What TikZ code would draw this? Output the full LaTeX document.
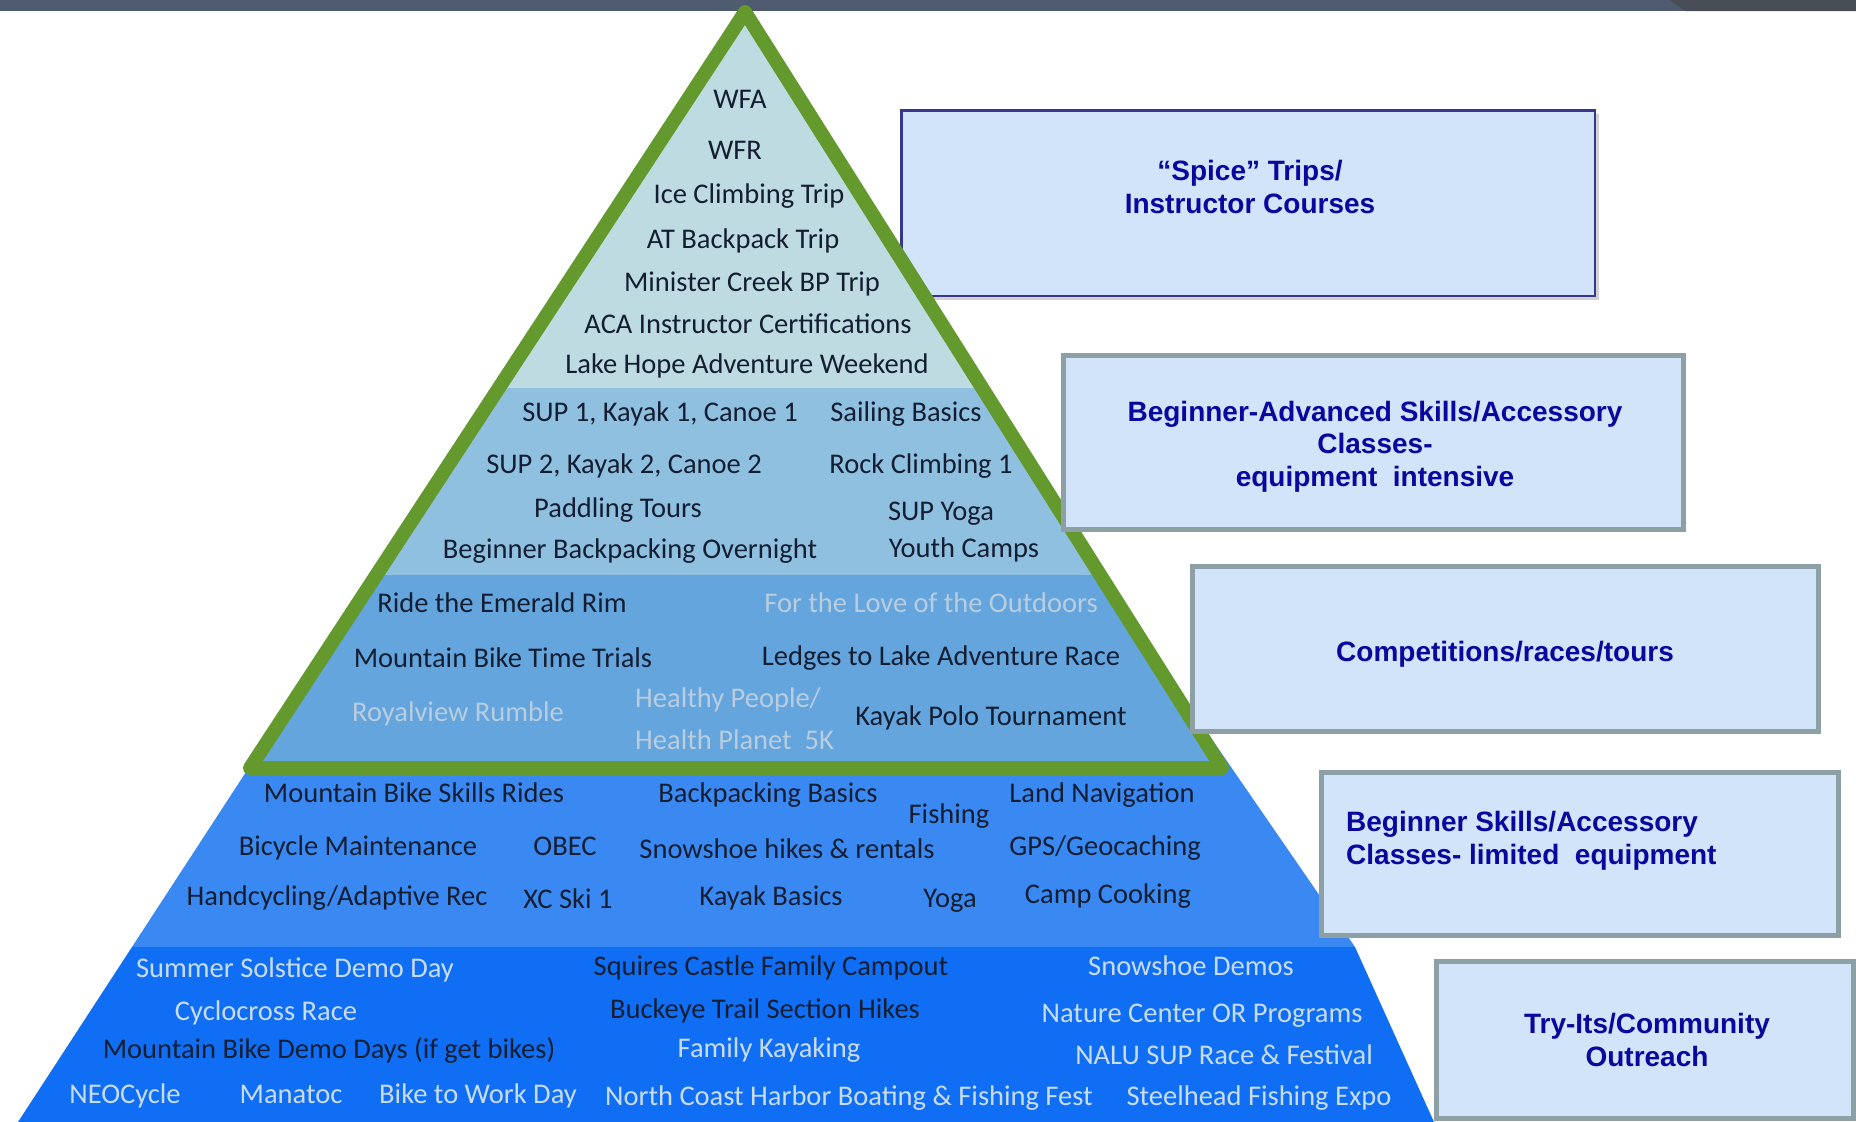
\documentclass[tikz,border=0pt]{standalone}
\usepackage{fontspec}
\setmainfont{Carlito}
\newfontfamily\arialfont{Liberation Sans}
\definecolor{barcol}{RGB}{79,91,110}
\definecolor{barcoltwo}{RGB}{72,77,86}
\definecolor{bandone}{RGB}{189,219,224}
\definecolor{bandtwo}{RGB}{143,192,224}
\definecolor{bandthree}{RGB}{100,165,222}
\definecolor{bandfour}{RGB}{58,137,242}
\definecolor{bandfive}{RGB}{16,110,245}
\definecolor{pyrgreen}{RGB}{99,153,45}
\definecolor{boxfill}{RGB}{209,228,250}
\definecolor{boxonecol}{RGB}{55,55,140}
\definecolor{boxborder}{RGB}{140,160,165}
\definecolor{boxtext}{RGB}{8,8,158}
\definecolor{darktext}{RGB}{20,30,50}
\definecolor{lightthree}{RGB}{185,205,222}
\definecolor{lightfive}{RGB}{200,220,240}
\begin{document}
\begin{tikzpicture}[x=1pt,y=-1pt,
  ptxt/.style={font=\fontsize{28.5}{34}\selectfont, anchor=base, inner sep=0pt},
  dk/.style={ptxt, text=darktext},
  ltt/.style={ptxt, text=lightthree},
  ltf/.style={ptxt, text=lightfive},
  boxtxt/.style={font=\arialfont\bfseries\fontsize{28}{32.5}\selectfont, text=boxtext, align=center, anchor=base, inner sep=0pt},
  catbox/.style={draw=boxborder, line width=5pt, fill=boxfill}]
\useasboundingbox (0,0) rectangle (1856,1122);
\clip (0,0) rectangle (1856,1122);
% top bar
\fill[barcol] (0,0) rectangle (1856,11);
\fill[barcoltwo] (1670,0) -- (1856,0) -- (1856,11) -- (1685,11) -- cycle;
% box 1 (behind the pyramid)
\fill[black, opacity=0.18] (904,114) rectangle (1599,300);
\draw[draw=boxonecol, line width=2.5pt, fill=boxfill] (901.25,110.25) rectangle (1594.75,295.75);
\node[boxtxt] (t1) at (1250,213) {“Spice” Trips/\\Instructor Courses};
% blue base of the pyramid
\fill[bandfour] (358,600) -- (1116,600) -- (1355,947) -- (132,947) -- cycle;
\fill[bandfive] (132,947) -- (1355,947) -- (1434,1122) -- (18,1122) -- cycle;
% green-framed top of the pyramid
\begin{scope}
\clip (745,12) -- (1222,768) -- (250,768) -- cycle;
\fill[bandone] (0,0) rectangle (1856,388);
\fill[bandtwo] (0,388) rectangle (1856,575);
\fill[bandthree] (0,575) rectangle (1856,780);
\end{scope}
\draw[pyrgreen, line width=14pt, line join=round] (745,12) -- (1222,768) -- (250,768) -- cycle;
% band 1
\node[dk] (wfa) at (740,108) {WFA};
\node[dk] (wfr) at (735,159) {WFR};
\node[dk] (ice) at (749,203) {Ice Climbing Trip};
\node[dk] (at) at (743,248) {AT Backpack Trip};
\node[dk] (mcb) at (752,291) {Minister Creek BP Trip};
\node[dk] (aca) at (748,333) {ACA Instructor Certifications};
\node[dk] (lha) at (747,373) {Lake Hope Adventure Weekend};
% band 2
\node[dk] (sup1) at (660,421) {SUP 1, Kayak 1, Canoe 1};
\node[dk] (sail) at (906,421) {Sailing Basics};
\node[dk] (sup2) at (624,473) {SUP 2, Kayak 2, Canoe 2};
\node[dk] (rock) at (921,473) {Rock Climbing 1};
\node[dk] (padd) at (618,517) {Paddling Tours};
\node[dk] (supy) at (941,520) {SUP Yoga};
\node[dk] (bbo) at (630,558) {Beginner Backpacking Overnight};
\node[dk] (youth) at (964,557) {Youth Camps};
% band 3
\node[dk] (rer) at (502,612) {Ride the Emerald Rim};
\node[ltt] (love) at (931,612) {For the Love of the Outdoors};
\node[dk] (mbtt) at (503,667) {Mountain Bike Time Trials};
\node[dk] (ledge) at (941,665) {Ledges to Lake Adventure Race};
\node[ltt] (royal) at (458,721) {Royalview Rumble};
\node[ltt, anchor=base west] (hp1) at (635,707) {Healthy People/};
\node[ltt, anchor=base west] (hp2) at (635,749) {Health Planet~ 5K};
\node[dk] (polo) at (991,725) {Kayak Polo Tournament};
% band 4
\node[dk] (mbsr) at (414,802) {Mountain Bike Skills Rides};
\node[dk] (bpb) at (768,802) {Backpacking Basics};
\node[dk] (fish) at (949,823) {Fishing};
\node[dk] (land) at (1102,802) {Land Navigation};
\node[dk] (bicy) at (358,855) {Bicycle Maintenance};
\node[dk] (obec) at (565,855) {OBEC};
\node[dk] (snow) at (787,858) {Snowshoe hikes \& rentals};
\node[dk] (gps) at (1105,855) {GPS/Geocaching};
\node[dk] (hand) at (337,905) {Handcycling/Adaptive Rec};
\node[dk] (xc) at (568,908) {XC Ski 1};
\node[dk] (kayb) at (771,905) {Kayak Basics};
\node[dk] (yoga) at (950,907) {Yoga};
\node[dk] (camp) at (1108,903) {Camp Cooking};
% band 5
\node[ltf] (sol) at (295,977) {Summer Solstice Demo Day};
\node[dk] (squ) at (771,975) {Squires Castle Family Campout};
\node[ltf] (sdem) at (1191,975) {Snowshoe Demos};
\node[ltf] (cyc) at (266,1020) {Cyclocross Race};
\node[dk] (buck) at (765,1018) {Buckeye Trail Section Hikes};
\node[ltf] (nat) at (1202,1022) {Nature Center OR Programs};
\node[dk] (mbdd) at (329,1058) {Mountain Bike Demo Days (if get bikes)};
\node[ltf] (fam) at (769,1057) {Family Kayaking};
\node[ltf] (nalu) at (1224,1064) {NALU SUP Race \& Festival};
\node[ltf] (neo) at (125,1103) {NEOCycle};
\node[ltf] (man) at (291,1103) {Manatoc};
\node[ltf] (btw) at (478,1103) {Bike to Work Day};
\node[ltf] (nch) at (849,1105) {North Coast Harbor Boating \& Fishing Fest};
\node[ltf] (steel) at (1259,1105) {Steelhead Fishing Expo};
% category boxes 2-5
\draw[catbox] (1063.5,355.5) rectangle (1683.5,529.5);
\node[boxtxt] (t2) at (1375,486) {Beginner-Advanced Skills/Accessory\\Classes-\\equipment~ intensive};
\draw[catbox] (1192.5,566.5) rectangle (1818.5,731.5);
\node[boxtxt] (t3) at (1505,661) {Competitions/races/tours};
\draw[catbox] (1321.5,772.5) rectangle (1838.5,935.5);
\node[boxtxt, align=left, anchor=base west] (t4) at (1346,864) {Beginner Skills/Accessory\\Classes- limited~ equipment};
\draw[catbox] (1436.5,961.5) rectangle (1853.5,1118.5);
\node[boxtxt] (t5) at (1647,1066) {Try-Its/Community\\Outreach};
\end{tikzpicture}
\end{document}
